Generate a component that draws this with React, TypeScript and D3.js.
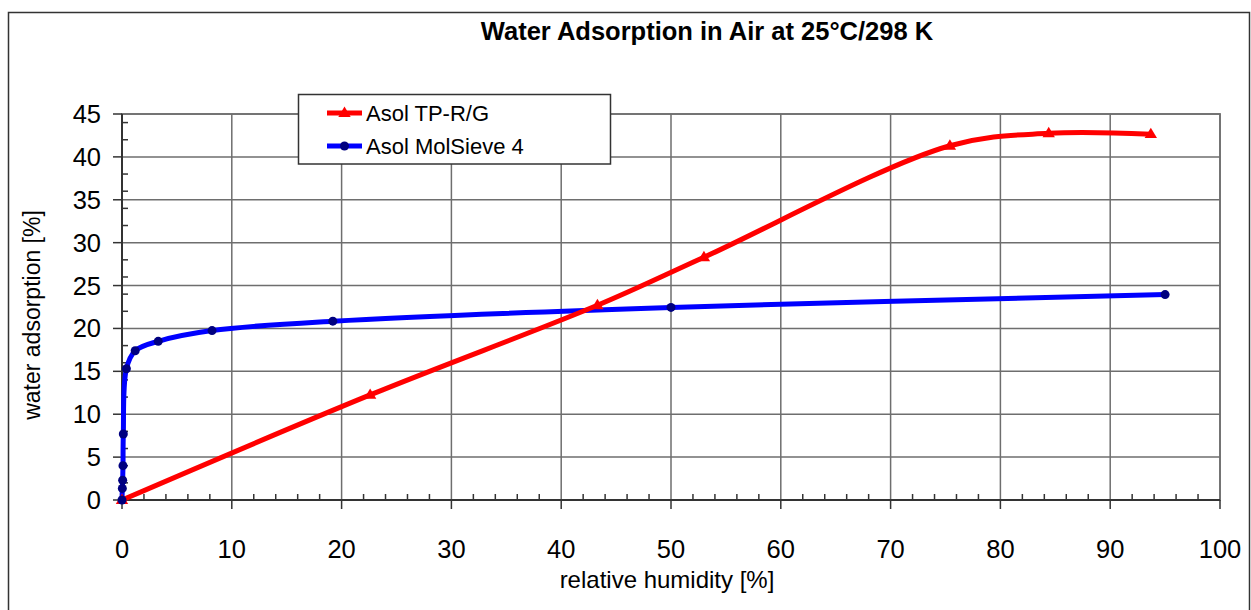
import React from "react";
import * as d3 from "d3";

const title = "Water Adsorption in Air at 25°C/298 K";
const xLabel = "relative humidity [%]";
const yLabel = "water adsorption [%]";

const xTicks = [0, 10, 20, 30, 40, 50, 60, 70, 80, 90, 100];
const yTicks = [0, 5, 10, 15, 20, 25, 30, 35, 40, 45];

const redName = "Asol TP-R/G";
const redX = [0, 22.6, 43.3, 53.0, 75.4, 84.4, 93.7];
const redY = [0, 12.25, 22.7, 28.3, 41.3, 42.75, 42.65];

const blueName = "Asol MolSieve 4";
const blueX = [0, 0.03, 0.06, 0.09, 0.12, 0.4, 1.2, 3.3, 8.2, 19.2, 50.0, 95.0];
const blueY = [0, 1.35, 2.3, 4.0, 7.7, 15.3, 17.4, 18.5, 19.75, 20.85, 22.45, 23.95];

const W = 1251;
const H = 610;
const M = { left: 122, right: 1220, top: 114, bottom: 500 };
const FONT = "'Liberation Sans', Arial, sans-serif";

export default function App() {
  const x = d3.scaleLinear().domain([0, 100]).range([M.left, M.right]);
  const y = d3.scaleLinear().domain([0, 45]).range([M.bottom, M.top]);

  const red = redX.map((v, i) => [v, redY[i]] as [number, number]);
  const blue = blueX.map((v, i) => [v, blueY[i]] as [number, number]);

  const line = d3
    .line<[number, number]>()
    .x((d) => x(d[0]))
    .y((d) => y(d[1]))
    .curve(d3.curveCatmullRom.alpha(0.5));

  const minorX = d3.range(0, 101, 2).filter((v) => v % 10 !== 0);
  const minorY = d3.range(0, 46, 2).filter((v) => v % 5 !== 0);

  const tri = (cx: number, cy: number, s: number) =>
    `M${cx},${cy - s}L${cx + s * 0.95},${cy + s * 0.6}L${cx - s * 0.95},${cy + s * 0.6}Z`;

  return (
    <svg
      width={W}
      height={H}
      style={{ position: "absolute", left: 0, top: 0, background: "#fff" }}
    >
      <rect x={8.5} y={12.5} width={1241} height={620} fill="#fff" stroke="#333" strokeWidth={1.5} />
      <text
        x={707}
        y={40}
        textAnchor="middle"
        fontFamily={FONT}
        fontWeight="bold"
        fontSize={25.5}
        fill="#000"
      >
        {title}
      </text>

      {/* plot area */}
      <rect x={M.left} y={M.top} width={M.right - M.left} height={M.bottom - M.top} fill="#fff" stroke="#888" strokeWidth={2} />

      {/* gridlines */}
      {yTicks.slice(1).map((t) => (
        <line key={"gy" + t} x1={M.left} x2={M.right} y1={y(t)} y2={y(t)} stroke="#6e6e6e" strokeWidth={1.5} />
      ))}
      {xTicks.slice(1).map((t) => (
        <line key={"gx" + t} x1={x(t)} x2={x(t)} y1={M.top} y2={M.bottom} stroke="#6e6e6e" strokeWidth={1.5} />
      ))}

      {/* axes */}
      <line x1={M.left} x2={M.right} y1={M.bottom} y2={M.bottom} stroke="#333" strokeWidth={2} />
      <line x1={M.left} x2={M.left} y1={M.top} y2={M.bottom} stroke="#333" strokeWidth={2} />

      {xTicks.map((t) => (
        <g key={"xt" + t}>
          <line x1={x(t)} x2={x(t)} y1={M.bottom} y2={M.bottom + 9} stroke="#333" strokeWidth={1.5} />
          <text x={x(t)} y={558} textAnchor="middle" fontFamily={FONT} fontSize={25.5} fill="#000">
            {t}
          </text>
        </g>
      ))}
      {minorX.map((t) => (
        <line key={"mx" + t} x1={x(t)} x2={x(t)} y1={M.bottom} y2={M.bottom - 6} stroke="#333" strokeWidth={1.5} />
      ))}
      {yTicks.map((t) => (
        <g key={"yt" + t}>
          <line x1={M.left - 9} x2={M.left} y1={y(t)} y2={y(t)} stroke="#333" strokeWidth={1.5} />
          <text x={101} y={y(t) + 9} textAnchor="end" fontFamily={FONT} fontSize={25.5} fill="#000">
            {t}
          </text>
        </g>
      ))}
      {minorY.map((t) => (
        <line key={"my" + t} x1={M.left} x2={M.left + 6} y1={y(t)} y2={y(t)} stroke="#333" strokeWidth={1.5} />
      ))}

      {/* axis titles */}
      <text x={667} y={588} textAnchor="middle" fontFamily={FONT} fontSize={24} fill="#000">
        {xLabel}
      </text>
      <text
        transform={`translate(40,${315}) rotate(-90)`}
        textAnchor="middle"
        fontFamily={FONT}
        fontSize={23}
        fill="#000"
      >
        {yLabel}
      </text>

      {/* series */}
      <path d={line(blue) || ""} fill="none" stroke="#0000ff" strokeWidth={5} strokeLinejoin="round" />
      <path d={line(red) || ""} fill="none" stroke="#ff0000" strokeWidth={5} strokeLinejoin="round" />
      {red.map((d, i) => (
        <path key={"rm" + i} d={tri(x(d[0]), y(d[1]), 6.5)} fill="#ff0000" />
      ))}
      {blue.map((d, i) => (
        <circle key={"bm" + i} cx={x(d[0])} cy={y(d[1])} r={4.5} fill="#000080" />
      ))}

      {/* legend */}
      <rect x={298.5} y={94.5} width={312} height={69.5} fill="#fff" stroke="#333" strokeWidth={1.5} />
      <line x1={327} x2={362} y1={113} y2={113} stroke="#ff0000" strokeWidth={5} />
      <path d={tri(344.5, 113, 6.5)} fill="#ff0000" />
      <text x={366} y={121} fontFamily={FONT} fontSize={22} fill="#000">
        {redName}
      </text>
      <line x1={327} x2={362} y1={146} y2={146} stroke="#0000ff" strokeWidth={5} />
      <circle cx={344.5} cy={146} r={4.5} fill="#000080" />
      <text x={366} y={154} fontFamily={FONT} fontSize={22} fill="#000">
        {blueName}
      </text>
    </svg>
  );
}
